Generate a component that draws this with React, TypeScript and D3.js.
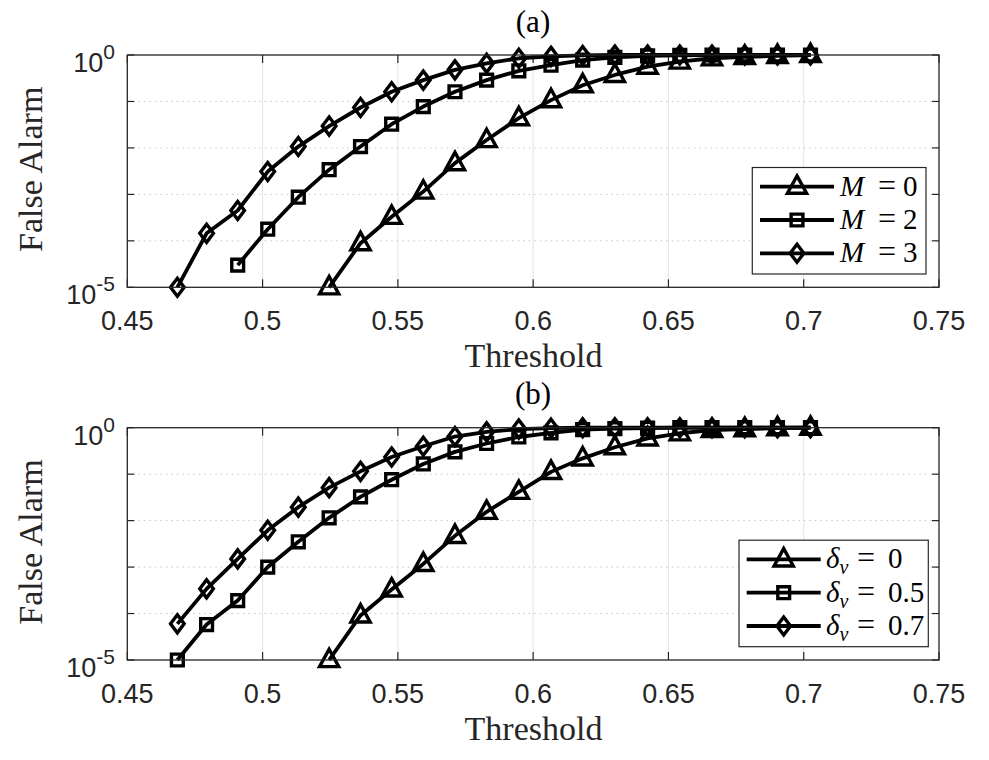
import React from "react";
import * as d3 from "d3";

const thresholds = [0.4685, 0.4793, 0.4908, 0.5019, 0.5132, 0.5246, 0.5362, 0.5477, 0.5594, 0.5711, 0.5828, 0.5947, 0.6066, 0.6183, 0.6302, 0.6423, 0.6542, 0.6661, 0.6782, 0.6903, 0.7025];

const topM0 = [null, null, null, null, null, 1e-5, 8.9e-5, 3.3e-4, 1.15e-3, 4.7e-3, 0.0148, 0.0437, 0.107, 0.224, 0.372, 0.562, 0.724, 0.851, 0.912, 0.955, 1.0];
const topM2 = [null, null, 3.0e-5, 1.78e-4, 8.7e-4, 3.4e-3, 0.0107, 0.0324, 0.0776, 0.162, 0.288, 0.457, 0.603, 0.776, 0.891, 0.955, 0.977, 1, 1, 1, 1];
const topM3 = [1e-5, 1.45e-4, 4.5e-4, 3.1e-3, 0.0107, 0.0295, 0.0741, 0.162, 0.288, 0.479, 0.661, 0.851, 0.933, 0.977, 1, 1, 1, 1, 1, 1, 1];

const botD0 = [null, null, null, null, null, 1e-5, 9.1e-5, 3.3e-4, 1.17e-3, 4.7e-3, 0.0155, 0.0417, 0.112, 0.219, 0.38, 0.589, 0.759, 0.891, 0.933, 0.977, 1];
const botD05 = [1e-5, 5.8e-5, 1.9e-4, 1e-3, 3.5e-3, 0.0115, 0.0324, 0.0759, 0.166, 0.302, 0.457, 0.631, 0.776, 0.912, 0.955, 0.977, 1, 1, 1, 1, 1];
const botD07 = [6.0e-5, 3.4e-4, 1.5e-3, 6.2e-3, 0.0195, 0.0513, 0.115, 0.234, 0.398, 0.646, 0.813, 0.933, 0.977, 1, 1, 1, 1, 1, 1, 1, 1];

const xTicks = [0.45, 0.5, 0.55, 0.6, 0.65, 0.7, 0.75];
const yTickExps = [0, -1, -2, -3, -4, -5];
const yLabelExps = [0, -5];

const topLegend = [
  { sym: "M", sub: "", val: "0" },
  { sym: "M", sub: "", val: "2" },
  { sym: "M", sub: "", val: "3" },
];
const botLegend = [
  { sym: "δ", sub: "v", val: "0" },
  { sym: "δ", sub: "v", val: "0.5" },
  { sym: "δ", sub: "v", val: "0.7" },
];
const markers = ["triangle", "square", "diamond"];

const LEFT = 127.3;
const RIGHT = 939;
const PH = 232.3;
const AX = "#262626";
const SANS = "'Liberation Sans', Arial, sans-serif";
const SERIF = "'Liberation Serif', 'Times New Roman', serif";

function markerPath(type: string) {
  if (type === "triangle") return "M0,-10.8L9.6,6.6L-9.6,6.6Z";
  if (type === "square") return "M-5.9,-5.9L5.9,-5.9L5.9,5.9L-5.9,5.9Z";
  return "M0,-9L6.8,0L0,9L-6.8,0Z";
}

function Panel({ top, title, series, legend, legendBox }: any) {
  const x = d3.scaleLinear().domain([0.45, 0.75]).range([LEFT, RIGHT]);
  const y = d3.scaleLog().domain([1e-5, 1]).range([top + PH, top]);
  const line = d3
    .line<any>()
    .defined((d) => d[1] != null)
    .x((d) => x(d[0]))
    .y((d) => y(d[1]));
  const bottom = top + PH;
  return (
    <g>
      <rect x={LEFT} y={top} width={RIGHT - LEFT} height={PH} fill="#fff" />
      {xTicks.slice(1, -1).map((t) => (
        <line key={"vg" + t} x1={x(t)} x2={x(t)} y1={top} y2={bottom} stroke="#e3e3e3" strokeWidth={1} />
      ))}
      {yTickExps.slice(1, -1).map((e) => (
        <line key={"hg" + e} x1={LEFT} x2={RIGHT} y1={y(Math.pow(10, e))} y2={y(Math.pow(10, e))} stroke="#c4c4c4" strokeWidth={1} strokeDasharray="1.5,4" />
      ))}
      {xTicks.map((t) => (
        <g key={"xt" + t}>
          <line x1={x(t)} x2={x(t)} y1={bottom} y2={bottom - 8} stroke={AX} strokeWidth={1.2} />
          <line x1={x(t)} x2={x(t)} y1={top} y2={top + 8} stroke={AX} strokeWidth={1.2} />
          <text x={x(t)} y={bottom + 43} textAnchor="middle" fontFamily={SANS} fontSize={27} fill={AX}>
            {String(t)}
          </text>
        </g>
      ))}
      {yTickExps.map((e) => (
        <g key={"yt" + e}>
          <line x1={LEFT} x2={LEFT + 7} y1={y(Math.pow(10, e))} y2={y(Math.pow(10, e))} stroke={AX} strokeWidth={1.2} />
          <line x1={RIGHT} x2={RIGHT - 7} y1={y(Math.pow(10, e))} y2={y(Math.pow(10, e))} stroke={AX} strokeWidth={1.2} />
        </g>
      ))}
      {yLabelExps.map((e) => (
        <text key={"yl" + e} x={115} y={y(Math.pow(10, e)) + 17} textAnchor="end" fontFamily={SANS} fontSize={27} fill={AX}>
          10
          <tspan fontSize={21} dy={-13}>{String(e)}</tspan>
        </text>
      ))}
      {series.map((s: any, i: number) => {
        const pts = thresholds.map((t, k) => [t, s[k]]);
        return (
          <g key={"s" + i}>
            <path d={line(pts) || ""} fill="none" stroke="#000" strokeWidth={3.8} strokeLinejoin="round" />
            {pts
              .filter((p) => p[1] != null)
              .map((p, k) => (
                <path key={k} d={markerPath(markers[i])} transform={`translate(${x(p[0])},${y(p[1])})`} fill="none" stroke="#000" strokeWidth={3.4} strokeLinejoin="miter" />
              ))}
          </g>
        );
      })}
      <rect x={LEFT} y={top} width={RIGHT - LEFT} height={PH} fill="none" stroke={AX} strokeWidth={1.3} />
      <text x={533} y={top - 23.5} textAnchor="middle" fontFamily={SERIF} fontSize={31} fill="#000">
        {title}
      </text>
      <text x={533.5} y={bottom + 79.5} textAnchor="middle" fontFamily={SERIF} fontSize={34} fill={AX}>
        Threshold
      </text>
      <text transform={`translate(41.5,${top + 114.3}) rotate(-90)`} textAnchor="middle" fontFamily={SERIF} fontSize={34} fill={AX}>
        False Alarm
      </text>
      <rect x={legendBox.x0} y={top + 112.5} width={legendBox.x1 - legendBox.x0} height={106.5} fill="#fff" stroke={AX} strokeWidth={1.2} />
      {legend.map((l: any, i: number) => {
        const ry = top + 131.7 + i * 33.3;
        return (
          <g key={"lg" + i}>
            <line x1={legendBox.l0} x2={legendBox.l1} y1={ry} y2={ry} stroke="#000" strokeWidth={3.8} />
            <path d={markerPath(markers[i])} transform={`translate(${(legendBox.l0 + legendBox.l1) / 2},${ry})`} fill="none" stroke="#000" strokeWidth={3.4} />
            <text x={legendBox.t0} y={ry + 9} fontFamily={SERIF} fontSize={29} fill="#000">
              <tspan fontStyle="italic">{l.sym}</tspan>
              {l.sub ? (
                <tspan fontStyle="italic" fontSize={20} dy={6}>
                  {l.sub}
                </tspan>
              ) : null}
            </text>
            <text x={legendBox.eq} y={ry + 9} fontFamily={SERIF} fontSize={32} fill="#000">
              =
            </text>
            <text x={legendBox.num} y={ry + 9} fontFamily={SERIF} fontSize={29} fill="#000">
              {l.val}
            </text>
          </g>
        );
      })}
    </g>
  );
}

export default function App() {
  return (
    <div style={{ position: "absolute", left: 0, top: 0 }}>
      <svg width={989} height={760} style={{ display: "block", background: "#fff" }}>
        <rect x={0} y={0} width={989} height={760} fill="#fff" />
        <Panel
          top={55}
          title="(a)"
          series={[topM0, topM2, topM3]}
          legend={topLegend}
          legendBox={{ x0: 752.3, x1: 926, l0: 760, l1: 834, t0: 840, eq: 878, num: 903 }}
        />
        <Panel
          top={427.7}
          title="(b)"
          series={[botD0, botD05, botD07]}
          legend={botLegend}
          legendBox={{ x0: 739, x1: 928.3, l0: 746.7, l1: 820.7, t0: 826, eq: 857, num: 888 }}
        />
      </svg>
    </div>
  );
}
